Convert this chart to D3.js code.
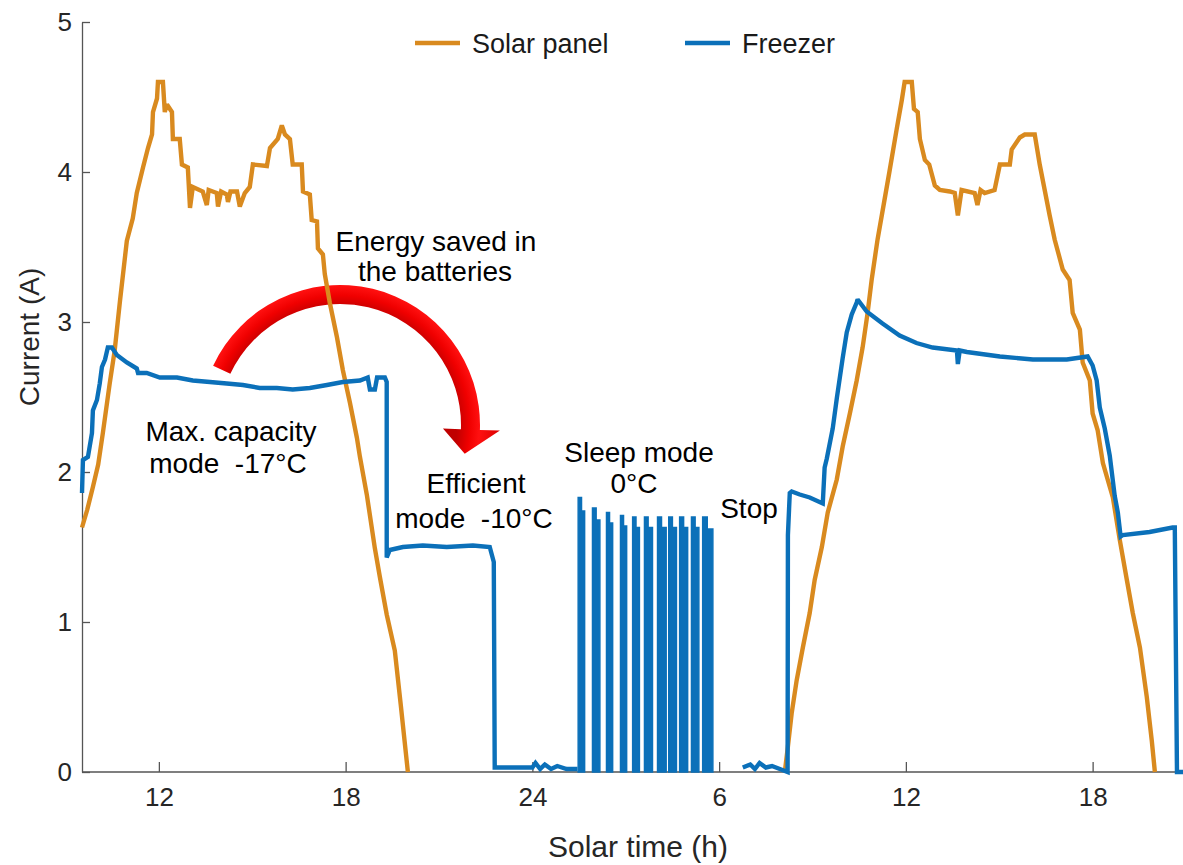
<!DOCTYPE html>
<html lang="en">

<head>
  <meta charset="utf-8">
  <title> Solar freezer current </title>
  <script src="https://d3js.org/d3.v7.min.js"></script>
  <style>
    body {
      margin: 0;
      background: #fff;
      font-family: "Liberation Sans", Arial, sans-serif;
    }

    .axis path,
    .axis line {
      stroke: #555;
      stroke-width: 1.3;
    }

    .note {
      font-size: 28px;
      fill: #000;
      text-anchor: middle;
    }
  </style>
</head>

<body>
  <script>
    // Axis ticks (solar time keeps running past midnight, labels wrap)
    var xTicks = [12, 18, 24, 30, 36, 42];
    var xTickLabels = ["12", "18", "24", "6", "12", "18"];
    var yTicks = [0, 1, 2, 3, 4, 5];

    // Solar panel current [hour, A]
    var solarDay1 = [
      [9.53, 1.63], [9.70, 1.75], [9.88, 1.90], [10.05, 2.05], [10.20, 2.26], [10.42, 2.59], [10.58, 2.81],
      [10.75, 3.14], [10.97, 3.54], [11.16, 3.69], [11.29, 3.86], [11.49, 4.03], [11.65, 4.16],
      [11.78, 4.25], [11.81, 4.40], [11.94, 4.49], [11.97, 4.60], [12.13, 4.60], [12.19, 4.40],
      [12.26, 4.45], [12.42, 4.40], [12.45, 4.22], [12.67, 4.22], [12.74, 4.05], [12.93, 4.03],
      [13.00, 3.76], [13.09, 3.90], [13.41, 3.87], [13.54, 3.78], [13.60, 3.88], [13.86, 3.86],
      [13.90, 3.77], [14.00, 3.87], [14.18, 3.85], [14.22, 3.80], [14.30, 3.87], [14.51, 3.87],
      [14.60, 3.77], [14.76, 3.86], [14.92, 3.90], [15.02, 4.05], [15.47, 4.04], [15.57, 4.16],
      [15.82, 4.22], [15.95, 4.31], [16.05, 4.25], [16.21, 4.22], [16.30, 4.05], [16.59, 4.05],
      [16.63, 3.87], [16.85, 3.85], [16.91, 3.68], [17.08, 3.67], [17.11, 3.49], [17.27, 3.45],
      [17.33, 3.32], [17.49, 3.13], [17.72, 2.90], [17.91, 2.68], [18.14, 2.46], [18.36, 2.23],
      [18.46, 2.10], [18.68, 1.85], [18.94, 1.49], [19.10, 1.30], [19.32, 1.05], [19.58, 0.81],
      [19.77, 0.45], [20.00, 0.00]
    ];
    var solarDay2 = [
      [32.11, 0.00], [32.21, 0.17], [32.33, 0.39], [32.49, 0.61], [32.69, 0.83], [32.91, 1.06],
      [33.07, 1.28], [33.30, 1.50], [33.49, 1.73], [33.78, 1.95], [33.97, 2.17], [34.20, 2.39],
      [34.42, 2.61], [34.61, 2.83], [34.77, 3.06], [34.90, 3.28], [35.09, 3.55], [35.31, 3.81],
      [35.47, 4.00], [35.70, 4.28], [35.87, 4.48], [35.96, 4.60], [36.19, 4.60], [36.26, 4.42],
      [36.38, 4.40], [36.45, 4.22], [36.61, 4.08], [36.75, 4.05], [36.93, 3.91], [37.09, 3.88],
      [37.41, 3.87], [37.57, 3.86], [37.67, 3.71], [37.79, 3.88], [38.21, 3.86], [38.30, 3.78],
      [38.40, 3.88], [38.53, 3.86], [38.85, 3.88], [39.02, 4.05], [39.34, 4.05], [39.40, 4.15],
      [39.66, 4.23], [39.82, 4.25], [40.14, 4.25], [40.30, 4.05], [40.46, 3.88], [40.62, 3.71],
      [40.78, 3.55], [41.04, 3.35], [41.26, 3.28], [41.36, 3.06], [41.59, 2.95], [41.68, 2.73],
      [41.91, 2.61], [42.00, 2.39], [42.16, 2.28], [42.33, 2.06], [42.65, 1.83], [42.87, 1.55],
      [43.10, 1.28], [43.29, 1.06], [43.52, 0.83], [43.74, 0.50], [43.90, 0.21], [44.00, 0.00]
    ];

    // Freezer current [hour, A]
    var freezerDay1 = [
      [9.53, 1.86], [9.56, 2.08], [9.72, 2.10], [9.85, 2.26], [9.88, 2.41], [10.01, 2.48],
      [10.10, 2.59], [10.17, 2.70], [10.27, 2.75], [10.36, 2.83], [10.49, 2.83], [10.65, 2.78],
      [10.97, 2.73], [11.29, 2.69], [11.33, 2.66], [11.61, 2.66], [12.03, 2.63], [12.58, 2.63],
      [13.09, 2.61], [13.64, 2.60], [14.18, 2.59], [14.70, 2.58], [15.24, 2.56], [15.79, 2.56],
      [16.30, 2.55], [16.85, 2.56], [17.40, 2.58], [17.91, 2.60], [18.46, 2.61], [18.71, 2.63],
      [18.78, 2.55], [18.94, 2.55], [19.01, 2.63], [19.26, 2.63], [19.32, 2.60]
    ];
    var freezerEfficient = [
      [19.32, 1.43], [19.42, 1.48], [19.84, 1.50], [20.48, 1.51], [21.25, 1.50], [22.09, 1.51],
      [22.63, 1.50], [22.76, 1.40], [22.79, 0.03], [23.50, 0.03], [24.00, 0.03], [24.10, 0.06],
      [24.25, 0.02], [24.40, 0.05], [24.60, 0.02], [24.80, 0.04], [25.10, 0.02], [25.45, 0.02]
    ];
    // Sleep mode compressor cycles: [on, knee, off, peak, level after knee]
    var sleepPulses = [
      [25.47, 25.58, 25.68, 1.83, 1.74], [25.93, 26.05, 26.17, 1.76, 1.68],
      [26.38, 26.48, 26.58, 1.73, 1.66], [26.83, 26.93, 27.03, 1.71, 1.64],
      [27.22, 27.33, 27.44, 1.70, 1.63], [27.60, 27.72, 27.86, 1.70, 1.63],
      [28.02, 28.15, 28.30, 1.70, 1.63], [28.38, 28.50, 28.63, 1.70, 1.63],
      [28.73, 28.86, 28.99, 1.70, 1.63], [29.11, 29.23, 29.35, 1.70, 1.63],
      [29.47, 29.62, 29.80, 1.70, 1.62]
    ];
    // after the "Stop" gap
    var freezerDay2 = [
      [30.76, 0.03], [31.00, 0.05], [31.15, 0.02], [31.30, 0.06], [31.50, 0.03], [31.70, 0.04],
      [31.95, 0.02], [32.20, 0.00], [32.21, 1.58], [32.27, 1.86], [32.33, 1.87], [32.59, 1.85],
      [32.91, 1.83], [33.33, 1.79], [33.39, 2.03], [33.46, 2.09], [33.65, 2.29], [33.78, 2.49],
      [33.97, 2.76], [34.10, 2.93], [34.26, 3.05], [34.42, 3.13], [34.45, 3.15], [34.74, 3.07],
      [35.25, 2.99], [35.80, 2.91], [36.34, 2.86], [36.86, 2.83], [37.64, 2.81], [37.67, 2.72],
      [37.73, 2.81], [37.96, 2.80], [39.02, 2.77], [40.08, 2.75], [41.17, 2.75], [41.84, 2.77],
      [42.00, 2.71], [42.13, 2.61], [42.23, 2.43], [42.39, 2.29], [42.55, 2.11], [42.71, 1.84],
      [42.81, 1.73], [42.90, 1.57], [42.97, 1.58], [43.83, 1.60], [44.57, 1.63], [44.64, 1.63],
      [44.71, 0.00], [44.95, 0.00]
    ];

    var seriesNames = ["Solar panel", "Freezer"];
    var seriesColors = ["#D98A1F", "#0B70B9"];

    // Build the full series (null breaks the line)
    var solar = solarDay1.concat([null], solarDay2);
    var freezer = freezerDay1.concat(freezerEfficient, [null], freezerDay2);

    var width = 1183,
      height = 865;
    var margin = { left: 82, top: 22, bottom: 93 };

    var svg = d3.select("body")
      .append("svg")
      .attr("width", width)
      .attr("height", height);

    var x = d3.scaleLinear()
      .domain([9.53, 45.0])
      .range([margin.left, 1186]);

    var y = d3.scaleLinear()
      .domain([0, 5])
      .range([height - margin.bottom, margin.top]);

    // Axes (ticks point inward, no box)
    var xAxis = svg.append("g")
      .attr("class", "axis")
      .attr("transform", "translate(0," + y(0) + ")")
      .call(d3.axisBottom(x)
        .tickValues(xTicks)
        .tickFormat(function(d, i) { return xTickLabels[i]; })
        .tickSizeInner(-10)
        .tickSizeOuter(0)
        .tickPadding(16));
    xAxis.select(".domain").attr("d", "M" + x.range()[0] + ",0H" + width);

    var yAxis = svg.append("g")
      .attr("class", "axis")
      .attr("transform", "translate(" + x(9.53) + ",0)")
      .call(d3.axisLeft(y)
        .tickValues(yTicks)
        .tickFormat(d3.format("d"))
        .tickSizeInner(-8)
        .tickSizeOuter(0)
        .tickPadding(10));

    svg.selectAll(".axis text")
      .style("font-size", "26px")
      .style("font-family", "'Liberation Sans', Arial, sans-serif")
      .style("fill", "#262626");

    // Axis titles
    svg.append("text")
      .attr("x", 638)
      .attr("y", 857)
      .attr("text-anchor", "middle")
      .style("font-size", "30px")
      .style("fill", "#262626")
      .text("Solar time (h)");

    svg.append("text")
      .attr("transform", "translate(39,337) rotate(-90)")
      .attr("text-anchor", "middle")
      .style("font-size", "28px")
      .style("fill", "#262626")
      .text("Current (A)");

    // Red curved arrow: energy moved from day to night
    var defs = svg.append("defs");
    var grad = defs.append("radialGradient")
      .attr("id", "arrowFill")
      .attr("gradientUnits", "userSpaceOnUse")
      .attr("cx", 340).attr("cy", 425).attr("r", 162);
    grad.append("stop").attr("offset", "0.72").attr("stop-color", "#c00000");
    grad.append("stop").attr("offset", "0.80").attr("stop-color", "#f00000");
    grad.append("stop").attr("offset", "0.86").attr("stop-color", "#ff1010");
    grad.append("stop").attr("offset", "1").attr("stop-color", "#d80000");

    var acx = 340, acy = 425, rOut = 140, rIn = 121;
    var a0 = 205 * Math.PI / 180, a1 = 362 * Math.PI / 180, aTip = 373 * Math.PI / 180;
    var ap = d3.path();
    ap.moveTo(acx + rOut * Math.cos(a0), acy + rOut * Math.sin(a0));
    ap.arc(acx, acy, rOut, a0, a1, false);
    ap.lineTo(acx + 160 * Math.cos(a1), acy + 160 * Math.sin(a1));
    ap.lineTo(acx + 128 * Math.cos(aTip), acy + 128 * Math.sin(aTip));
    ap.lineTo(acx + 103 * Math.cos(a1), acy + 103 * Math.sin(a1));
    ap.lineTo(acx + rIn * Math.cos(a1), acy + rIn * Math.sin(a1));
    ap.arc(acx, acy, rIn, a1, a0, true);
    ap.closePath();
    svg.append("path")
      .attr("d", ap.toString())
      .attr("fill", "url(#arrowFill)");

    // Lines
    var line = d3.line()
      .defined(function(d) { return d !== null; })
      .x(function(d) { return x(d[0]); })
      .y(function(d) { return y(d[1]); });

    [solar, freezer].forEach(function(s, i) {
      svg.append("path")
        .datum(s)
        .attr("d", line)
        .attr("fill", "none")
        .attr("stroke", seriesColors[i])
        .attr("stroke-width", 4.4)
        .attr("stroke-linejoin", "miter")
        .attr("stroke-miterlimit", 2);
    });

    // Sleep mode pulses: dense on/off cycling drawn as solid blocks
    var pulseArea = d3.area()
      .x(function(d) { return x(d[0]); })
      .y0(y(0))
      .y1(function(d) { return y(d[1]); });

    svg.selectAll(".pulse")
      .data(sleepPulses)
      .enter().append("path")
      .attr("class", "pulse")
      .attr("d", function(p) {
        return pulseArea([[p[0], p[3]], [p[1], p[3]], [p[1], p[4]], [p[2], p[4]]]);
      })
      .attr("fill", seriesColors[1])
      .attr("stroke", seriesColors[1])
      .attr("stroke-width", 1.4);

    // Legend
    var legendX = [415, 685];
    seriesNames.forEach(function(name, i) {
      svg.append("line")
        .attr("x1", legendX[i]).attr("x2", legendX[i] + 45)
        .attr("y1", 43).attr("y2", 43)
        .attr("stroke", seriesColors[i])
        .attr("stroke-width", 4.5);
      svg.append("text")
        .attr("x", legendX[i] + 57)
        .attr("y", 53)
        .style("font-size", "27px")
        .style("fill", "#1a1a1a")
        .text(name);
    });

    // Annotations
    var notes = [
      ["Energy saved in", 436, 251], ["the batteries", 435, 281],
      ["Max. capacity", 231, 441], ["mode  -17\u00B0C", 228, 473],
      ["Efficient", 476, 493], ["mode  -10\u00B0C", 474, 528],
      ["Sleep mode", 639, 462], ["0\u00B0C", 634, 493],
      ["Stop", 749, 518]
    ];
    svg.selectAll(".note")
      .data(notes)
      .enter().append("text")
      .attr("class", "note")
      .attr("x", function(d) { return d[1]; })
      .attr("y", function(d) { return d[2]; })
      .style("white-space", "pre")
      .text(function(d) { return d[0]; });
  </script>
</body>

</html>
